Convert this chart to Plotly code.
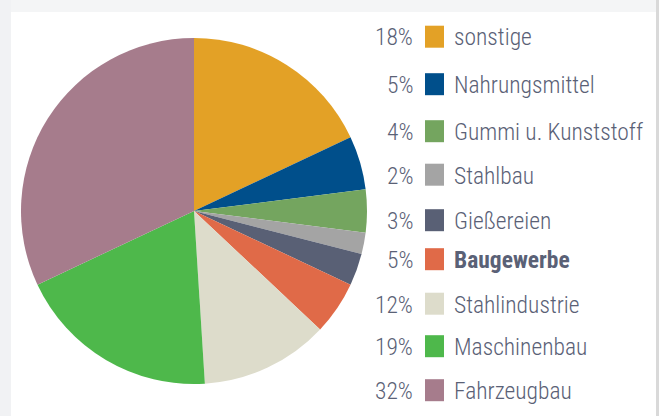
import plotly.graph_objects as go

W, H = 659, 416

categories = ["sonstige", "Nahrungsmittel", "Gummi u. Kunststoff", "Stahlbau",
              "Gießereien", "Baugewerbe", "Stahlindustrie", "Maschinenbau", "Fahrzeugbau"]
values = [18, 5, 4, 2, 3, 5, 12, 19, 32]
pct_labels = ["18%", "5%", "4%", "2%", "3%", "5%", "12%", "19%", "32%"]
colors = ["#E3A126", "#004F8B", "#74A55F", "#A4A4A4", "#596075",
          "#E06A48", "#DDDCCB", "#4EB84B", "#A67C8C"]
bold_flags = [False, False, False, False, False, True, False, False, False]

# layout constants (pixels)
cx, cy, r = 194, 211, 173
row_y = [37.5, 85, 132, 175.5, 221, 260, 304.5, 347, 391]
pct_x = 415
sq_x0, sq_x1, sq_h = 425, 444, 22
lab_x = 452
txt_color = "#5A6176"
font_family = "Roboto Condensed, DejaVu Sans Condensed, sans-serif"
fsize = 23.5

fig = go.Figure()
fig.add_trace(go.Pie(
    labels=categories, values=values, sort=False, direction="clockwise",
    rotation=0, textinfo="none", hoverinfo="label+percent",
    marker=dict(colors=colors, line=dict(width=0)),
    domain=dict(x=[(cx - r) / W, (cx + r) / W], y=[1 - (cy + r) / H, 1 - (cy - r) / H]),
    showlegend=False,
))

shapes = [
    dict(type="rect", xref="paper", yref="paper", x0=0, x1=1, y0=1 - 12 / H, y1=1,
         fillcolor="#F4F5F6", line=dict(width=0), layer="below"),
    dict(type="rect", xref="paper", yref="paper", x0=0, x1=11 / W, y0=0, y1=1,
         fillcolor="#F1F2F4", line=dict(width=0), layer="below"),
    dict(type="rect", xref="paper", yref="paper", x0=656 / W, x1=1, y0=0, y1=1,
         fillcolor="#D9D9D9", line=dict(width=0), layer="below"),
]
annotations = []
for i, (cat, pl, col, b) in enumerate(zip(categories, pct_labels, colors, bold_flags)):
    yc = row_y[i]
    shapes.append(dict(type="rect", xref="paper", yref="paper",
                       x0=sq_x0 / W, x1=sq_x1 / W,
                       y0=1 - (yc - 0.8 + sq_h / 2) / H, y1=1 - (yc - 0.8 - sq_h / 2) / H,
                       fillcolor=col, line=dict(width=0)))
    annotations.append(dict(xref="paper", yref="paper", x=pct_x / W, y=1 - yc / H,
                            text=pl, showarrow=False, xanchor="right", yanchor="middle",
                            font=dict(family=font_family, size=fsize, color=txt_color, weight=300)))
    annotations.append(dict(xref="paper", yref="paper", x=lab_x / W, y=1 - yc / H,
                            text=cat, showarrow=False,
                            xanchor="left", yanchor="middle",
                            font=dict(family=font_family, size=fsize, color=txt_color,
                                      weight=700 if b else 300)))

fig.update_layout(
    width=W, height=H, margin=dict(l=0, r=0, t=0, b=0),
    paper_bgcolor="white", plot_bgcolor="white",
    shapes=shapes, annotations=annotations,
)
fig.write_html("out.html", config={"displayModeBar": False},
               post_script="document.body.style.margin='0';document.body.style.overflow='hidden';")
